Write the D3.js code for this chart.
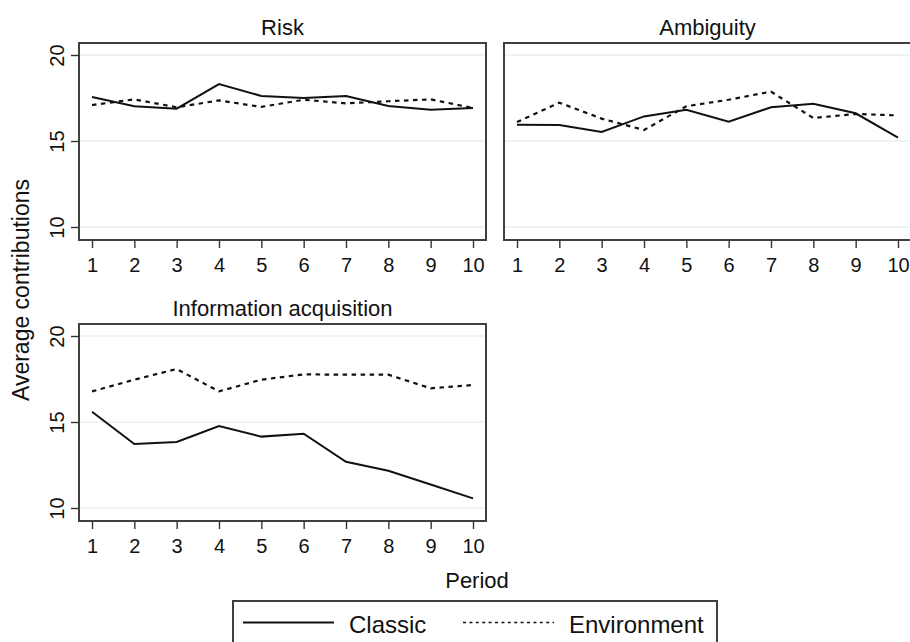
<!DOCTYPE html>
<html>
<head>
<meta charset="utf-8">
<script src="https://cdn.jsdelivr.net/npm/d3@7"></script>
<style>
  body { margin: 0; background: #fff; }
  svg { font-family: "Liberation Sans", Arial, sans-serif; }
</style>
</head>
<body>
<div id="canvas"></div>
<script>
//---- ---- DATA ---- ----
var periods = [1, 2, 3, 4, 5, 6, 7, 8, 9, 10];
var panelNames = ['Risk', 'Ambiguity', 'Information acquisition'];
var seriesNames = ['Classic', 'Environment'];
var yTicks = [10, 15, 20];

var riskClassic = [17.56, 17.02, 16.88, 18.31, 17.62, 17.5, 17.62, 17.03, 16.82, 16.92];
var riskEnv     = [17.09, 17.42, 16.96, 17.36, 16.98, 17.4, 17.19, 17.31, 17.42, 16.92];
var ambClassic  = [15.95, 15.93, 15.52, 16.43, 16.82, 16.12, 16.96, 17.17, 16.61, 15.19];
var ambEnv      = [16.10, 17.23, 16.30, 15.64, 17.02, 17.40, 17.87, 16.34, 16.57, 16.49];
var infoClassic = [15.6, 13.72, 13.84, 14.77, 14.15, 14.32, 12.69, 12.17, 11.37, 10.56];
var infoEnv     = [16.78, 17.46, 18.08, 16.78, 17.46, 17.77, 17.75, 17.75, 16.96, 17.15];

var panels = [
  {name: panelNames[0], series: [riskClassic, riskEnv], left: 79, top: 43, yLabels: true},
  {name: panelNames[1], series: [ambClassic, ambEnv], left: 504, top: 43, yLabels: false},
  {name: panelNames[2], series: [infoClassic, infoEnv], left: 79, top: 324, yLabels: true}
];

//---- ---- SETUP ---- ----
var W = 910, H = 642;
var bw = 407, bh = 197;
var dashes = [null, '4.5,4.5'];
var font = '"Liberation Sans", Arial, sans-serif';

var svg = d3.select('#canvas')
  .append('svg')
  .attr('width', W)
  .attr('height', H);

var x = d3.scaleLinear().domain([1, 10]).range([13, bw - 13]);
var y = d3.scaleLinear().domain([10, 20]).range([184, 12]);

var line = d3.line()
  .x(function(d, i) { return x(periods[i]); })
  .y(function(d) { return y(d); });

//---- ---- PANELS ---- ----
panels.forEach(function(p) {
  var g = svg.append('g')
    .attr('transform', 'translate(' + p.left + ',' + p.top + ')');

  // gridlines
  g.selectAll('.grid')
    .data(yTicks)
    .enter()
    .append('line')
    .attr('x1', 0).attr('x2', bw)
    .attr('y1', function(d) { return y(d); })
    .attr('y2', function(d) { return y(d); })
    .attr('stroke', '#e8f0f3')
    .attr('stroke-width', 1.5);

  // series
  p.series.forEach(function(s, k) {
    g.append('path')
      .datum(s)
      .attr('d', line)
      .attr('fill', 'none')
      .attr('stroke', '#111')
      .attr('stroke-width', k ? 2.2 : 2)
      .attr('stroke-dasharray', dashes[k]);
  });

  // box
  g.append('rect')
    .attr('width', bw).attr('height', bh)
    .attr('fill', 'none')
    .attr('stroke', '#404040')
    .attr('stroke-width', 2);

  // x axis
  var axisX = d3.axisBottom(x).tickValues(periods).tickSize(8).tickPadding(10);
  var gx = g.append('g')
    .attr('transform', 'translate(0,' + bh + ')')
    .call(axisX);
  gx.select('.domain').remove();
  gx.selectAll('line').attr('stroke', '#333').attr('stroke-width', 1.4);
  gx.selectAll('text').attr('font-size', 20).attr('fill', '#111')
    .attr('font-family', font);

  // y axis
  var axisY = d3.axisLeft(y).tickValues(yTicks).tickSize(p.yLabels ? 8 : 0);
  var gy = g.append('g').call(axisY);
  gy.select('.domain').remove();
  gy.selectAll('line').attr('stroke', '#333').attr('stroke-width', 1.4);
  if (p.yLabels) {
    gy.selectAll('text')
      .attr('font-size', 20).attr('fill', '#111')
      .attr('font-family', font)
      .attr('text-anchor', 'middle')
      .attr('x', 0).attr('y', 0).attr('dy', 0)
      .attr('transform', 'translate(-15,0) rotate(-90)');
  } else {
    gy.selectAll('text').remove();
  }

  // title
  g.append('text')
    .attr('x', bw / 2).attr('y', -8)
    .attr('text-anchor', 'middle')
    .attr('font-size', 22)
    .attr('fill', '#111')
    .text(p.name);
});

//---- ---- AXIS TITLES ---- ----
svg.append('text')
  .attr('transform', 'translate(29,290) rotate(-90)')
  .attr('text-anchor', 'middle')
  .attr('font-size', 23)
  .attr('fill', '#111')
  .text('Average contributions');

svg.append('text')
  .attr('x', 477).attr('y', 588)
  .attr('text-anchor', 'middle')
  .attr('font-size', 22)
  .attr('fill', '#111')
  .text('Period');

//---- ---- LEGEND ---- ----
var legend = svg.append('g').attr('transform', 'translate(233,601)');
legend.append('rect')
  .attr('width', 484).attr('height', 50)
  .attr('fill', '#fff')
  .attr('stroke', '#404040')
  .attr('stroke-width', 2);

var legX = [10, 230];
seriesNames.forEach(function(name, k) {
  legend.append('line')
    .attr('x1', legX[k]).attr('x2', legX[k] + 91)
    .attr('y1', 21.5).attr('y2', 21.5)
    .attr('stroke', '#111')
    .attr('stroke-width', k ? 1.6 : 2)
    .attr('stroke-dasharray', k ? '3,3.4' : null);
  legend.append('text')
    .attr('x', legX[k] + 106).attr('y', 32)
    .attr('font-size', 24)
    .attr('fill', '#111')
    .text(name);
});
</script>
</body>
</html>
